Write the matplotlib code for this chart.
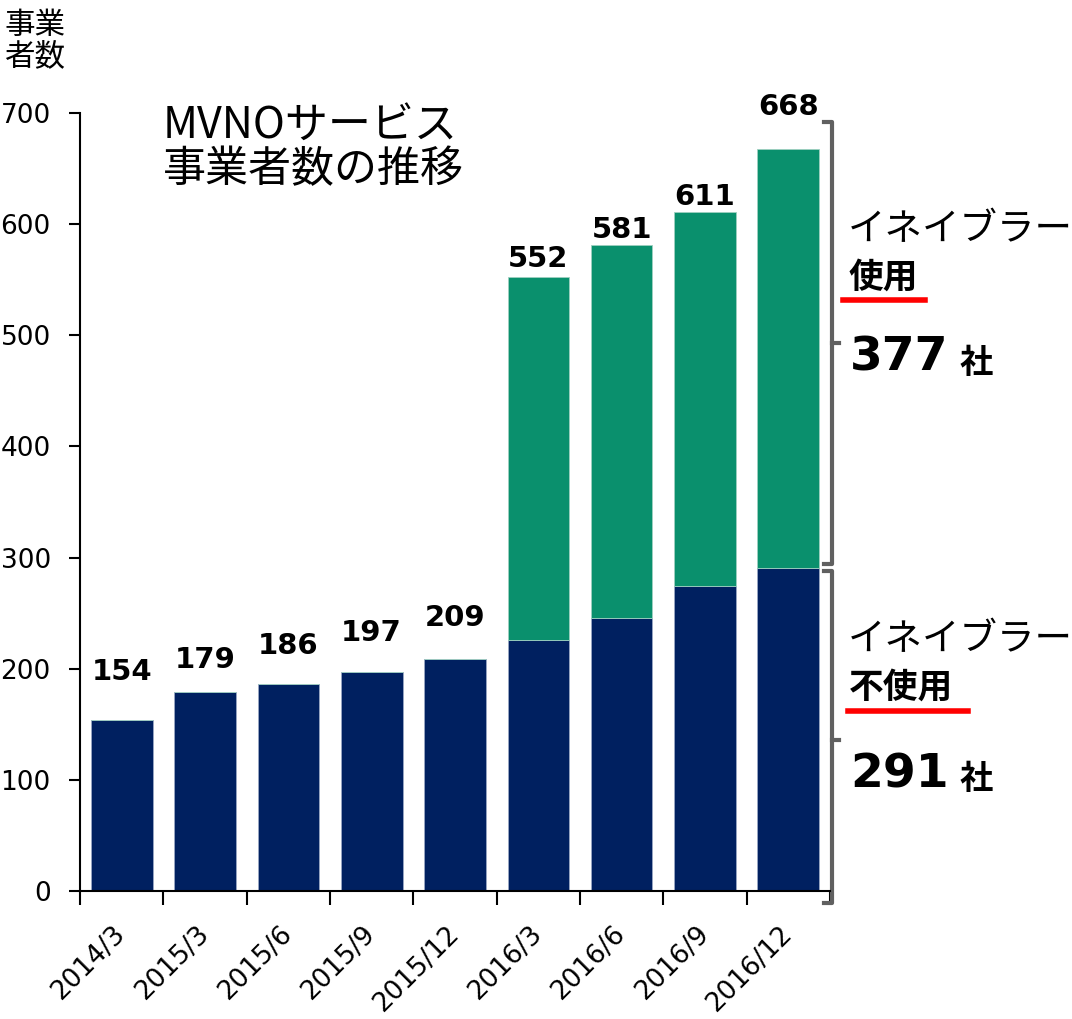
import numpy as np
import matplotlib
matplotlib.use("Agg")
from matplotlib import pyplot as plt

# data
periods = ["2014/3", "2015/3", "2015/6", "2015/9", "2015/12",
           "2016/3", "2016/6", "2016/9", "2016/12"]
not_using = [154, 179, 186, 197, 209, 226, 246, 274, 291]   # enabler not used
using = [0, 0, 0, 0, 0, 326, 335, 337, 377]                  # enabler used
totals = [154, 179, 186, 197, 209, 552, 581, 611, 668]
yticks = [0, 100, 200, 300, 400, 500, 600, 700]

# label lift above bar top, in pixels
label_lift = [48, 32, 38, 39, 41, 18, 15, 15, 42]

NAVY = "#002060"
GREEN = "#0A906D"
GRAY = "#606060"
JP = ["Noto Sans CJK JP", "DejaVu Sans"]

W, H = 1072, 1019
fig = plt.figure(figsize=(W / 100, H / 100), dpi=100)
ax = fig.add_axes([80 / W, 1 - 891 / H, 750 / W, (891 - 113) / H])

x = np.arange(len(periods))
ax.bar(x, not_using, width=0.74, color=NAVY, edgecolor="#9aa8c4", linewidth=0.6)
ax.bar(x, using, width=0.74, bottom=not_using, color=GREEN, edgecolor="#9fd0c0", linewidth=0.6)

ax.set_xlim(-0.5, len(periods) - 0.5)
ax.set_ylim(0, 700)
ax.set_yticks(yticks)
ax.set_yticklabels([str(v) for v in yticks], fontsize=19)
ax.set_xticks(np.arange(len(periods) + 1) - 0.5)
ax.set_xticklabels([])
ax.set_xticks(x, minor=True)
ax.set_xticklabels(periods, minor=True, rotation=45, ha="right", va="center",
                   rotation_mode="anchor", fontsize=19)
ax.tick_params(axis="x", which="minor", length=0, pad=28)
ax.tick_params(axis="x", which="major", length=10, width=1.5, direction="out")
ax.tick_params(axis="y", length=8, width=1.5, direction="out", pad=13)
for s in ["top", "right"]:
    ax.spines[s].set_visible(False)
for s in ["left", "bottom"]:
    ax.spines[s].set_linewidth(1.5)

# value labels
for xi, t, lift in zip(x, totals, label_lift):
    ax.annotate(str(t), (xi, t), xytext=(0, lift * 0.72), textcoords="offset points",
                ha="center", va="center", fontsize=21, fontweight="bold")

# braces on the right of the last bar
def brace(y0, y1, ymid):
    xr = len(periods) - 0.5 + 0.03
    xl = xr - 0.1
    ax.plot([xl, xr, xr, xl], [y1, y1, y0, y0], color=GRAY, lw=3, clip_on=False,
            solid_joinstyle="round")
    ax.plot([xr, xr + 0.08], [ymid, ymid], color=GRAY, lw=3, clip_on=False)

brace(not_using[-1] + 3, totals[-1] + 24, 493)
brace(-11, not_using[-1] - 3, 136)

def px(px_x, px_y):
    return px_x / W, 1 - px_y / H

fig.text(*px(4, 10), "事業\n者数", family=JP, fontsize=22, va="top", ha="left",
         linespacing=1.0)
fig.text(*px(163, 104), "MVNOサービス\n事業者数の推移", family=JP, fontsize=31,
         va="top", ha="left", linespacing=1.0)

fig.text(*px(848, 230), "イネイブラー", family=JP, fontsize=27, va="center", ha="left")
fig.text(*px(849, 277), "使用", family=JP, fontsize=25, fontweight="bold", va="center", ha="left")
fig.add_artist(plt.Line2D([843 / W, 925 / W], [1 - 300 / H] * 2, color="red", lw=4))
fig.text(*px(850, 358), "377", fontsize=34, fontweight="bold", va="center", ha="left")
fig.text(*px(960, 363), "社", family=JP, fontsize=24, fontweight="bold", va="center", ha="left")

fig.text(*px(848, 640), "イネイブラー", family=JP, fontsize=27, va="center", ha="left")
fig.text(*px(849, 687), "不使用", family=JP, fontsize=25, fontweight="bold", va="center", ha="left")
fig.add_artist(plt.Line2D([848 / W, 968 / W], [1 - 711 / H] * 2, color="red", lw=4))
fig.text(*px(850, 775), "291", fontsize=34, fontweight="bold", va="center", ha="left")
fig.text(*px(960, 780), "社", family=JP, fontsize=24, fontweight="bold", va="center", ha="left")

fig.savefig("out.png", dpi=100)
